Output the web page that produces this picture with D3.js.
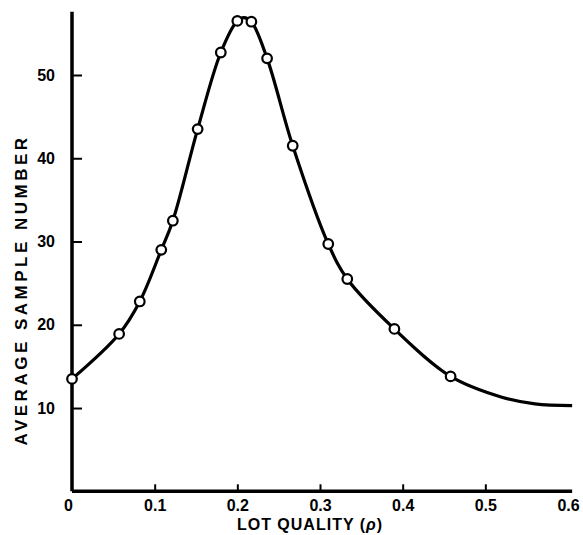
<!DOCTYPE html>
<html>
<head>
<meta charset="utf-8">
<script src="https://cdn.jsdelivr.net/npm/d3@7"></script>
<style>
  body { margin: 0; background: #fff; }
  svg text { font-family: "Liberation Sans", Arial, sans-serif; font-weight: bold; fill: #000; }
  .axis path { stroke: #000; stroke-width: 3.5; }
  .axis line { stroke: #000; stroke-width: 2; }
</style>
</head>
<body>
<script>
// observed points (lot quality p, average sample number)
var pointP   = [0, 0.057, 0.082, 0.108, 0.122, 0.152, 0.18, 0.2, 0.217, 0.236, 0.267, 0.31, 0.333, 0.39, 0.458];
var pointASN = [13.5, 18.9, 22.8, 29, 32.5, 43.5, 52.7, 56.5, 56.4, 52, 41.5, 29.7, 25.5, 19.5, 13.8];

// fitted curve
var curveP   = [0, 0.057, 0.082, 0.108, 0.122, 0.152, 0.18, 0.2, 0.208, 0.217, 0.236, 0.267, 0.31, 0.333, 0.39, 0.458, 0.52, 0.56, 0.605];
var curveASN = [13.5, 18.9, 22.8, 29, 32.5, 43.5, 52.7, 56.5, 56.9, 56.4, 52, 41.5, 29.7, 25.5, 19.5, 13.8, 11.3, 10.5, 10.3];

var xTicks = [0, 0.1, 0.2, 0.3, 0.4, 0.5, 0.6];
var yTicks = [10, 20, 30, 40, 50];

var width = 583, height = 535;

var x = d3.scaleLinear().domain([0, 0.6]).range([72, 568]);
var y = d3.scaleLinear().domain([0, 50]).range([491.3, 75]);

var svg = d3.select("body").append("svg")
    .attr("width", width)
    .attr("height", height);

// y axis, ticks pointing inward
var yAxis = svg.append("g")
    .attr("class", "axis")
    .attr("transform", "translate(" + x(0) + ",0)")
    .call(d3.axisLeft(y).tickValues(yTicks).tickSizeInner(-10).tickSizeOuter(0).tickPadding(17));
yAxis.select(".domain").attr("d", "M0," + y(0) + "V" + y(57.6));
yAxis.selectAll("text").style("font-size", "16px");

// x axis
var xAxis = svg.append("g")
    .attr("class", "axis")
    .attr("transform", "translate(0," + y(0) + ")")
    .call(d3.axisBottom(x).tickValues(xTicks).tickSizeInner(-7).tickSizeOuter(0).tickPadding(8)
      .tickFormat(function(d) { return d === 0 ? "0" : d3.format(".1f")(d); }));
xAxis.select(".domain").attr("d", "M" + x(0) + ",0H" + x(0.605));
xAxis.selectAll(".tick line").filter(function(d) { return d === 0 || d === 0.6; }).remove();
xAxis.selectAll("text").style("font-size", "16px");
xAxis.selectAll(".tick").filter(function(d) { return d === 0; }).select("text").attr("x", -4);

// curve
var line = d3.line()
    .x(function(d) { return x(d[0]); })
    .y(function(d) { return y(d[1]); })
    .curve(d3.curveCatmullRom.alpha(0.5));

svg.append("path")
    .datum(d3.zip(curveP, curveASN))
    .attr("d", line)
    .attr("fill", "none")
    .attr("stroke", "#000")
    .attr("stroke-width", 3.2);

// observed points
svg.selectAll(".pt")
    .data(d3.zip(pointP, pointASN))
  .enter().append("circle")
    .attr("class", "pt")
    .attr("cx", function(d) { return x(d[0]); })
    .attr("cy", function(d) { return y(d[1]); })
    .attr("r", 4.8)
    .attr("fill", "#fff")
    .attr("stroke", "#000")
    .attr("stroke-width", 2.2);

// axis titles
svg.append("text")
    .attr("x", 310)
    .attr("y", 530)
    .attr("text-anchor", "middle")
    .style("font-size", "16px")
    .style("letter-spacing", "1px")
    .html('LOT QUALITY (<tspan style="font-style:italic">ρ</tspan>)');

svg.append("text")
    .attr("transform", "translate(27,290) rotate(-90)")
    .attr("text-anchor", "middle")
    .style("font-size", "17px")
    .style("letter-spacing", "3.5px")
    .text("AVERAGE SAMPLE NUMBER");
</script>
</body>
</html>
